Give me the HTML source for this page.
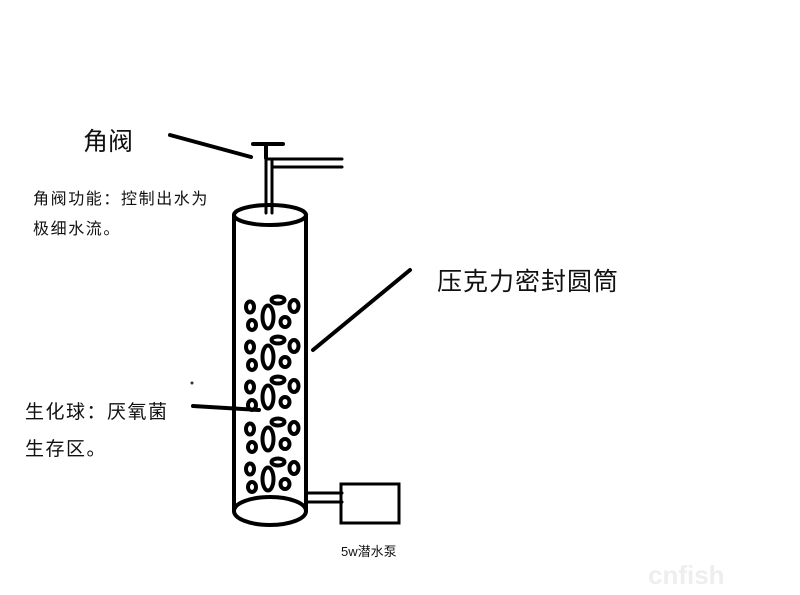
<!DOCTYPE html>
<html><head><meta charset="utf-8"><style>
body{margin:0;background:#fff;}
svg{display:block;}
text{font-family:"Liberation Sans","Noto Sans CJK SC",sans-serif;fill:#111;}
</style></head><body>
<svg width="800" height="595" viewBox="0 0 800 595" xmlns="http://www.w3.org/2000/svg">
<rect width="800" height="595" fill="#fff"/>
<g stroke="#000" stroke-width="4" fill="none" stroke-linecap="round">
<line x1="170" y1="135" x2="251" y2="157"/>
<line x1="253" y1="144" x2="283" y2="144"/>
<line x1="266" y1="144" x2="266" y2="158"/>
<line x1="266" y1="158" x2="266" y2="213" stroke-width="3"/>
<line x1="272" y1="160" x2="272" y2="213" stroke-width="3"/>
<line x1="266" y1="159" x2="342" y2="159" stroke-width="3"/>
<line x1="272" y1="167" x2="342" y2="167" stroke-width="3"/>
<ellipse cx="270" cy="215" rx="36" ry="10"/>
<line x1="234" y1="215" x2="234" y2="511"/>
<line x1="306" y1="215" x2="306" y2="511"/>
<ellipse cx="270" cy="511" rx="36" ry="14"/>
<line x1="410" y1="270" x2="313" y2="350"/>
<line x1="193" y1="406" x2="259" y2="410"/>
<line x1="308" y1="493" x2="342" y2="493" stroke-width="3"/>
<line x1="308" y1="502" x2="342" y2="502" stroke-width="3"/>
<rect x="341" y="484" width="58" height="39" stroke-width="3"/>
</g>
<circle cx="192" cy="383" r="1.5" fill="#333"/>
<g id="grp" stroke="#000" stroke-width="4" fill="none">
<ellipse cx="250" cy="307" rx="4" ry="5.5"/>
<ellipse cx="278" cy="300" rx="6.5" ry="3.5"/>
<ellipse cx="294" cy="306" rx="4.5" ry="6"/>
<ellipse cx="268" cy="317" rx="5.5" ry="11.5"/>
<ellipse cx="252" cy="325" rx="4" ry="5"/>
<ellipse cx="285" cy="322" rx="4.5" ry="5"/>
</g>
<use href="#grp" y="40"/>
<use href="#grp" y="80"/>
<use href="#grp" y="122"/>
<use href="#grp" y="162"/>
<text x="83" y="150" font-size="25">角阀</text>
<text x="33" y="204" font-size="16" letter-spacing="1.6">角阀功能：控制出水为</text>
<text x="33" y="234" font-size="16" letter-spacing="1.6">极细水流。</text>
<text x="437" y="290" font-size="25" letter-spacing="1">压克力密封圆筒</text>
<text x="25" y="418" font-size="19" letter-spacing="1.5">生化球：厌氧菌</text>
<text x="25" y="455" font-size="19" letter-spacing="1.5">生存区。</text>
<text x="341" y="556" font-size="13">5w潜水泵</text>
<text x="648" y="584" font-size="26" font-weight="bold" style="fill:#eeeeee">cnfish</text>
</svg>
</body></html>
